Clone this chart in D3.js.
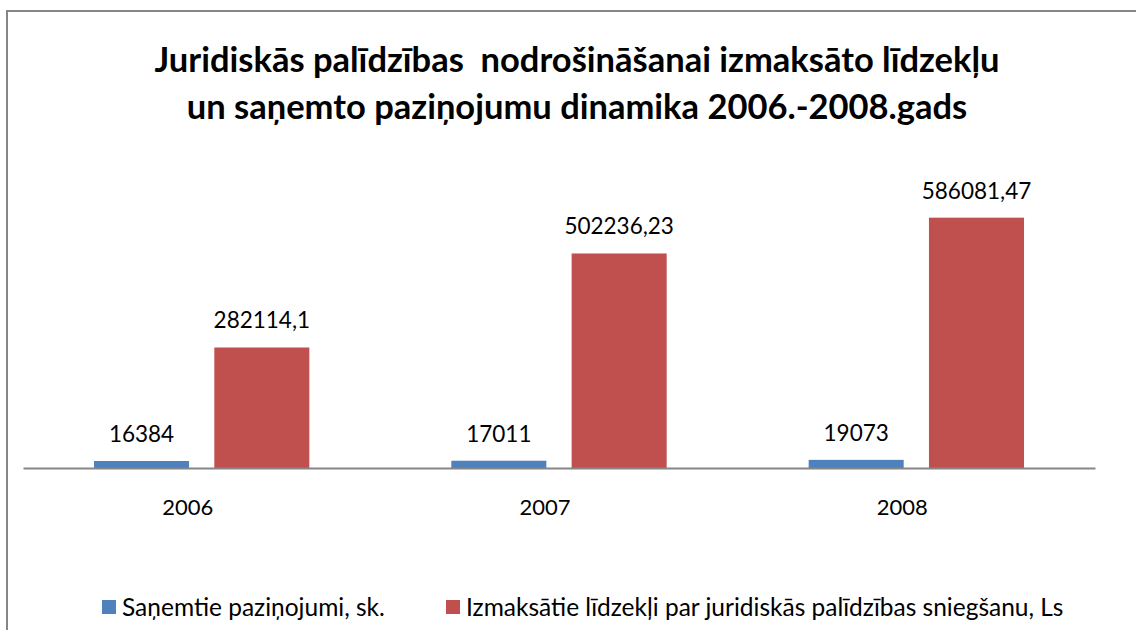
<!DOCTYPE html>
<html>
<head>
<meta charset="utf-8">
<script src="https://cdn.jsdelivr.net/npm/d3@7"></script>
<style>
  body { margin: 0; background: #fff; }
  svg text { font-family: Lato, "Noto Sans", sans-serif; fill: #000; }
</style>
</head>
<body>
<svg id="chart" width="1136" height="630"></svg>
<script>
// chart values
const years = ["2006", "2007", "2008"];
const seriesNames = [
  "Saņemtie paziņojumi, sk.",
  "Izmaksātie līdzekļi par juridiskās palīdzības sniegšanu, Ls"
];
const notices = [16384, 17011, 19073];
const funds = [282114.1, 502236.23, 586081.47];
const titleLines = [
  "Juridiskās palīdzības  nodrošināšanai izmaksāto līdzekļu",
  "un saņemto paziņojumu dinamika 2006.-2008.gads"
];
const colors = ["#4f81bd", "#c0504d"];

const width = 1136;
const height = 630;
const margin = { top: 169, right: 41, bottom: 162, left: 23 };
const baseY = height - margin.bottom;

const svg = d3.select("#chart");

// outer frame (runs off the right / bottom edge like the source)
svg.append("rect")
  .attr("x", 7).attr("y", 11)
  .attr("width", width + 20).attr("height", height + 20)
  .attr("fill", "#fff")
  .attr("stroke", "#868686")
  .attr("stroke-width", 2);

// title
svg.append("g")
  .selectAll("text")
  .data(titleLines)
  .join("text")
  .attr("x", 577)
  .attr("y", (d, i) => 72 + i * 47)
  .attr("text-anchor", "middle")
  .attr("font-size", "34.5px")
  .attr("font-weight", "bold")
  .style("white-space", "pre")
  .text((d) => d);

// scales
const xScale = d3.scaleBand()
  .domain(years)
  .range([margin.left, width - margin.right])
  .paddingInner(0)
  .paddingOuter(0);

const xSub = d3.scaleBand()
  .domain([0, 1])
  .range([0, xScale.bandwidth()])
  .paddingInner(0.21)
  .paddingOuter(0.59);

const yScale = d3.scaleLinear()
  .domain([0, 700000])
  .range([baseY, margin.top]);

const rows = years.map((y, i) => ({
  year: y,
  values: [notices[i], funds[i]]
}));

const fmt = (v) => String(v).replace(".", ",");

// bars
const groups = svg.append("g")
  .selectAll("g")
  .data(rows)
  .join("g")
  .attr("transform", (d) => `translate(${xScale(d.year)},0)`);

groups.selectAll("rect")
  .data((d) => d.values)
  .join("rect")
  .attr("x", (d, i) => xSub(i))
  .attr("y", (d) => yScale(d))
  .attr("width", xSub.bandwidth())
  .attr("height", (d) => baseY - yScale(d))
  .attr("fill", (d, i) => colors[i]);

groups.selectAll("text")
  .data((d) => d.values)
  .join("text")
  .attr("x", (d, i) => xSub(i) + xSub.bandwidth() / 2)
  .attr("y", (d) => yScale(d) - 19)
  .attr("text-anchor", "middle")
  .attr("font-size", "22.5px")
  .text((d) => fmt(d));

// x axis
const xAxis = svg.append("g")
  .attr("transform", `translate(0,${baseY})`)
  .call(d3.axisBottom(xScale).tickSize(0).tickPadding(31));
xAxis.select(".domain").attr("stroke", "#868686").attr("stroke-width", 2);
xAxis.selectAll("text")
  .attr("font-size", "22px")
  .attr("dx", -14)
  .style("font-family", "Lato, 'Noto Sans', sans-serif");

// legend
const legendItems = [
  { name: seriesNames[0], color: colors[0], x: 102 },
  { name: seriesNames[1], color: colors[1], x: 446 }
];
const legend = svg.append("g")
  .selectAll("g")
  .data(legendItems)
  .join("g")
  .attr("transform", (d) => `translate(${d.x},${600})`);

legend.append("rect")
  .attr("width", 14)
  .attr("height", 14)
  .attr("fill", (d) => d.color);

legend.append("text")
  .attr("x", 20)
  .attr("y", 16)
  .attr("font-size", "24.5px")
  .text((d) => d.name);
</script>
</body>
</html>
